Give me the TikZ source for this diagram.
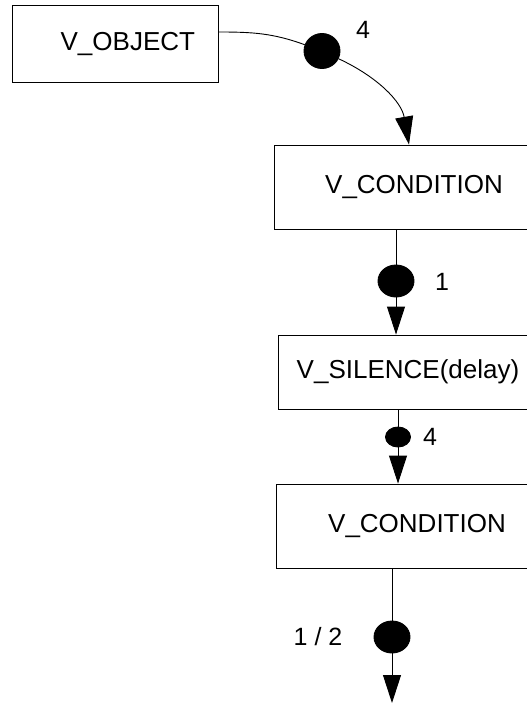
\documentclass[tikz,border=0pt]{standalone}
\usepackage{fontspec}
\setmainfont{Liberation Sans}
\usetikzlibrary{arrows.meta,shapes.geometric}

\begin{document}
\begin{tikzpicture}[x=1pt,y=1pt,line width=.9pt,
  box/.style={draw,rectangle,inner sep=0pt,font=\fontsize{26}{30}\selectfont},
  token/.style={draw,fill=black,ellipse,inner sep=0pt},
  flow/.style={-{Triangle[length=28pt,width=18pt]}},
  num/.style={font=\fontsize{25}{29}\selectfont}]
  \useasboundingbox (0,0) rectangle (527,-704);
  \node[box,minimum height=77pt,text width=160pt,align=right,inner xsep=23pt] (obj) at (115,-44) {V\_OBJECT};
  \node[box,minimum width=280pt,minimum height=84pt] (cond1) at (414,-187) {V\_CONDITION};
  \node[box,minimum width=260pt,minimum height=74pt] (sil) at (408,-372) {V\_SILENCE(delay)};
  \node[box,minimum width=282pt,minimum height=84pt] (cond2) at (417,-526) {V\_CONDITION};
  \node[token,minimum width=36pt,minimum height=35pt] (d0) at (322,-51) {};
  \node[token,minimum width=36pt,minimum height=32pt] (d1) at (396,-281) {};
  \node[token,minimum width=25pt,minimum height=20pt] (d2) at (398,-437) {};
  \node[token,minimum width=36pt,minimum height=32pt] (d3) at (392,-637) {};
  \coordinate (end) at (392,-703);
  \node[num] (n0) at (363,-30) {4}; \node[num] (n1) at (442,-282) {1};
  \node[num] (n2) at (430,-437) {4}; \node[num] (n3) at (318,-637) {1 / 2};
  % connectors
  \draw ([yshift=12pt]obj.east) to[out=0,in=160] (d0);
  \draw[flow] (d0) to[out=-25,in=100] ([xshift=-5pt]cond1.north);
  \draw (d1 |- cond1.south) -- (d1); \draw[flow] (d1) -- (d1 |- sil.north);
  \draw (d2 |- sil.south) -- (d2); \draw[flow] (d2) -- (d2 |- cond2.north);
  \draw (d3 |- cond2.south) -- (d3); \draw[flow] (d3) -- (end);
\end{tikzpicture}
\end{document}
